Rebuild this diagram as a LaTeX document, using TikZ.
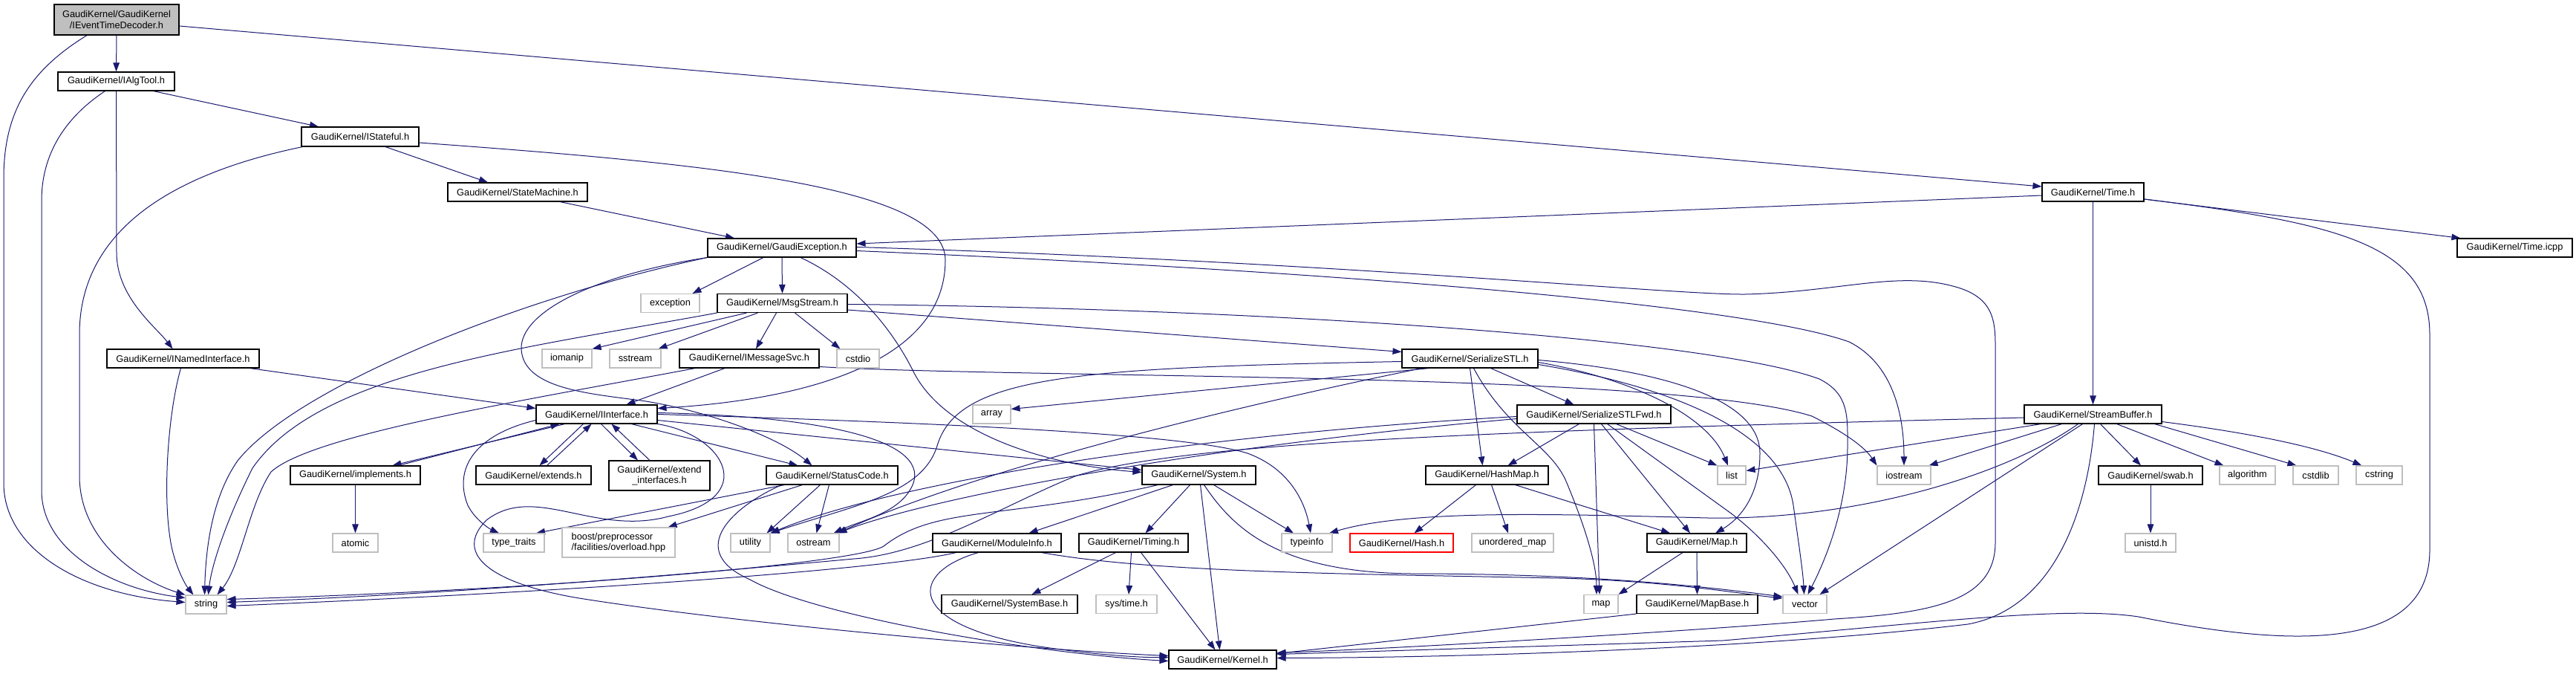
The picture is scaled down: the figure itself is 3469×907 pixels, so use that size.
\documentclass[tikz,border=0pt]{standalone}
\usepackage{fontspec}
\setmainfont{Liberation Sans}
\usetikzlibrary{arrows.meta}
\definecolor{edgeblue}{HTML}{191970}
\definecolor{sysgray}{HTML}{BFBFBF}
\pgfdeclarelayer{bg}
\pgfsetlayers{bg,main}
\begin{document}
\begin{tikzpicture}[x=1pt,y=-1pt,
  nd/.style={draw=black, line width=1.1pt, fill=white, inner sep=0pt, minimum height=25pt, align=center, font=\fontsize{12.8pt}{14.5pt}\selectfont},
  sysnd/.style={nd, draw=sysgray},
  dep/.style={draw=edgeblue, line width=1pt, -{Triangle[length=12pt,width=8.5pt]}}]
\useasboundingbox (0,0) rectangle (3469,907);
% ---------------- nodes ----------------
\node[nd, fill=sysgray, minimum width=168pt, minimum height=41pt] (ietd) at (157,26.5) {GaudiKernel/GaudiKernel\\/IEventTimeDecoder.h};
\node[nd, minimum width=157pt] (ialg) at (156.5,109.5) {GaudiKernel/IAlgTool.h};
\node[nd, minimum width=158pt, minimum height=26pt] (istat) at (485,184) {GaudiKernel/IStateful.h};
\node[nd, minimum width=188pt] (sm) at (697,258.5) {GaudiKernel/StateMachine.h};
\node[nd, minimum width=137pt] (time) at (2818.5,258.5) {GaudiKernel/Time.h};
\node[nd, minimum width=155pt] (ticpp) at (3386.5,333.5) {GaudiKernel/Time.icpp};
\node[nd, minimum width=200pt] (gexc) at (1053,333.5) {GaudiKernel/GaudiException.h};
\node[sysnd, minimum width=79pt] (exc) at (902.5,408) {exception};
\node[nd, minimum width=175pt] (msg) at (1053.5,408) {GaudiKernel/MsgStream.h};
\node[nd, minimum width=205pt] (inamed) at (246.5,482.5) {GaudiKernel/INamedInterface.h};
\node[sysnd, minimum width=67pt] (iomanip) at (763.5,482.5) {iomanip};
\node[sysnd, minimum width=69pt] (sstream) at (855.5,482.5) {sstream};
\node[nd, minimum width=188pt] (imsg) at (1009,482.5) {GaudiKernel/IMessageSvc.h};
\node[sysnd, minimum width=57pt] (cstdio) at (1155.5,482.5) {cstdio};
\node[nd, minimum width=183pt] (ser) at (1979.5,482.5) {GaudiKernel/SerializeSTL.h};
\node[nd, minimum width=163pt] (iint) at (803.5,557.5) {GaudiKernel/IInterface.h};
\node[sysnd, minimum width=51pt] (array) at (1335.5,557.5) {array};
\node[nd, minimum width=207pt] (serf) at (2146.5,557.5) {GaudiKernel/SerializeSTLFwd.h};
\node[nd, minimum width=185pt] (sbuf) at (2818.5,557.5) {GaudiKernel/StreamBuffer.h};
\node[nd, minimum width=175pt] (impl) at (478.5,639.5) {GaudiKernel/implements.h};
\node[nd, minimum width=155pt] (ext) at (718.5,639.5) {GaudiKernel/extends.h};
\node[nd, minimum width=136pt, minimum height=40pt] (extif) at (888,640) {GaudiKernel/extend\\\_interfaces.h};
\node[nd, minimum width=177pt] (sc) at (1120.5,639.5) {GaudiKernel/StatusCode.h};
\node[nd, minimum width=153pt] (sys) at (1614.5,639.5) {GaudiKernel/System.h};
\node[nd, minimum width=165pt] (hmap) at (2002.5,639.5) {GaudiKernel/HashMap.h};
\node[sysnd, minimum width=38pt] (list) at (2332,639.5) {list};
\node[sysnd, minimum width=72pt] (iostream) at (2564,639.5) {iostream};
\node[nd, minimum width=140pt] (swab) at (2896,639.5) {GaudiKernel/swab.h};
\node[sysnd, minimum width=75pt] (algo) at (3026.5,639.5) {algorithm};
\node[sysnd, minimum width=61pt] (cstdlib) at (3118.5,639.5) {cstdlib};
\node[sysnd, minimum width=62pt] (cstring) at (3204,639.5) {cstring};
\node[sysnd, minimum width=61pt] (atomic) at (478.5,730.5) {atomic};
\node[sysnd, minimum width=82pt] (ttraits) at (692,730.5) {type\_traits};
\node[sysnd, minimum width=152pt, minimum height=40pt, align=left] (boost) at (833,730) {boost/preprocessor\\/facilities/overload.hpp};
\node[sysnd, minimum width=53pt] (utility) at (1010.5,730.5) {utility};
\node[sysnd, minimum width=69pt] (ostream) at (1095.5,730.5) {ostream};
\node[nd, minimum width=173pt] (modinfo) at (1342.5,730.5) {GaudiKernel/ModuleInfo.h};
\node[nd, minimum width=147pt] (timing) at (1526.5,730.5) {GaudiKernel/Timing.h};
\node[sysnd, minimum width=68pt] (typeinfo) at (1760,730.5) {typeinfo};
\node[nd, draw=red, minimum width=139pt] (hash) at (1887.5,730.5) {GaudiKernel/Hash.h};
\node[sysnd, minimum width=110pt] (umap) at (2037,730.5) {unordered\_map};
\node[nd, minimum width=134pt] (mapH) at (2285,730.5) {GaudiKernel/Map.h};
\node[sysnd, minimum width=68pt] (unistd) at (2896,730.5) {unistd.h};
\node[sysnd, minimum width=55pt] (string) at (277.5,813.5) {string};
\node[nd, minimum width=183pt] (sysbase) at (1359.5,813) {GaudiKernel/SystemBase.h};
\node[sysnd, minimum width=82pt] (systime) at (1517,813) {sys/time.h};
\node[sysnd, minimum width=46pt] (map) at (2156,813) {map};
\node[nd, minimum width=163pt] (mapbase) at (2285.5,813) {GaudiKernel/MapBase.h};
\node[sysnd, minimum width=59pt] (vector) at (2430.5,813) {vector};
\node[nd, minimum width=145pt] (kernel) at (1646.5,887.5) {GaudiKernel/Kernel.h};
% ---------------- edges ----------------
\begin{pgfonlayer}{bg}
\fill[white] (0,0) rectangle (3469,907);
% IEventTimeDecoder
\draw[dep] (ietd.south) -- (ialg.north);
\draw[dep] ([xshift=-40pt]ietd.south) .. controls (40,95) and (5,150) .. (5,240) -- (5,650) .. controls (5,740) and (110,800) .. ([yshift=3pt]string.west);
\draw[dep] ([yshift=-8.5pt]ietd.east) -- ([yshift=7.5pt]time.west);
% IAlgTool
\draw[dep] ([xshift=-15pt]ialg.south) .. controls (85,160) and (56,210) .. (56,270) -- (56,660) .. controls (56,740) and (150,792) .. ([yshift=9pt]string.west);
\draw[dep] (ialg.south) -- (157,340) .. controls (157,400) and (210,440) .. ([xshift=-14pt]inamed.north);
\draw[dep] ([xshift=50pt]ialg.south) -- ([xshift=-56pt]istat.north);
% IStateful
\draw[dep] ([xshift=2pt]istat.south west) .. controls (250,230) and (107,300) .. (107,450) -- (107,640) .. controls (107,730) and (190,782) .. (string.north west);
\draw[dep] ([xshift=34pt]istat.south) -- ([xshift=-40pt]sm.north);
\draw[dep] ([yshift=-8pt]istat.east) .. controls (950,220) and (1273,250) .. (1273,350) .. controls (1273,500) and (1050,540) .. ([yshift=8pt]iint.east);
% StateMachine
\draw[dep] ([xshift=57pt]sm.south) -- ([xshift=-64pt]gexc.north);
% Time
\draw[dep] ([yshift=-4.5pt]time.west) -- ([yshift=5.5pt]gexc.east);
\draw[dep] ([yshift=-9.5pt]time.east) -- ([xshift=5pt]ticpp.north west);
\draw[dep] (time.south) -- (sbuf.north);
\draw[dep] ([yshift=-9.5pt]time.east) .. controls (3150,300) and (3272,330) .. (3272,450) -- (3272,740) .. controls (3272,880) and (3080,870) .. (2880,830) .. controls (2780,815) and (2600,838) .. (2320,862) -- ([yshift=7pt]kernel.east);
% GaudiException
\draw[dep] (gexc.south west) .. controls (700,400) and (400,520) .. (320,620) .. controls (285,670) and (277,740) .. ([xshift=-2pt]string.north);
\draw[dep] (gexc.south west) .. controls (800,370) and (700,420) .. (702,470) .. controls (705,525) and (800,530) .. (870,540) .. controls (960,555) and (1050,590) .. ([xshift=-27pt]sc.north);
\draw[dep] ([xshift=-25pt]gexc.south) -- ([xshift=30pt]exc.north);
\draw[dep] (gexc.south) -- (msg.north);
\draw[dep] ([xshift=25pt]gexc.south) .. controls (1150,380) and (1200,440) .. (1230,500) .. controls (1270,580) and (1400,625) .. ([yshift=4pt]sys.west);
\draw[dep] ([yshift=-4pt]gexc.east) .. controls (1800,365) and (2350,410) .. (2490,460) .. controls (2550,490) and (2564,560) .. (iostream.north);
\draw[dep] ([yshift=1pt]gexc.east) .. controls (1800,352) and (2250,397) .. (2350,396) .. controls (2480,393) and (2560,362) .. (2640,388) .. controls (2690,405) and (2687,440) .. (2687,480) -- (2687,730) .. controls (2687,810) and (2600,825) .. (2470,833) .. controls (2300,848) and (1900,872) .. ([yshift=9pt]kernel.east);
% MsgStream
\draw[dep] (msg.south west) .. controls (700,470) and (430,500) .. (340,630) .. controls (305,700) and (285,760) .. ([xshift=3pt]string.north);
\draw[dep] ([xshift=-48pt]msg.south) -- (iomanip.north east);
\draw[dep] ([xshift=-33pt]msg.south) -- ([xshift=-4pt]sstream.north east);
\draw[dep] ([xshift=-8pt]msg.south) -- ([xshift=9pt]imsg.north);
\draw[dep] ([xshift=17pt]msg.south) -- ([xshift=5pt]cstdio.north west);
\draw[dep] ([yshift=-9pt]msg.east) -- ([yshift=9pt]ser.west);
\draw[dep] ([yshift=-1.5pt]msg.east) .. controls (1700,415) and (2300,455) .. (2450,510) .. controls (2490,530) and (2488,560) .. (2488,600) .. controls (2488,680) and (2460,750) .. ([xshift=4pt]vector.north);
% IMessageSvc
\draw[dep] ([xshift=-33pt]imsg.south) -- ([xshift=40pt]iint.north);
\draw[dep] ([xshift=-73pt]imsg.south) .. controls (700,540) and (420,585) .. (365,635) .. controls (335,680) and (325,760) .. ([xshift=15pt]string.north);
\draw[dep] ([yshift=-11pt]imsg.east) .. controls (1400,510) and (2250,500) .. (2440,560) .. controls (2480,580) and (2510,600) .. (iostream.north west);
% SerializeSTL
\draw[dep] ([xshift=-55pt]ser.south) -- ([yshift=7pt]array.east);
\draw[dep] ([yshift=-4pt]ser.west) .. controls (1450,495) and (1290,505) .. (1262,600) .. controls (1242,665) and (1150,680) .. (utility.north east);
\draw[dep] ([xshift=-65pt]ser.south) .. controls (1600,560) and (1300,640) .. ([xshift=-3pt]ostream.north east);
\draw[dep] (ser.south) -- ([xshift=-6pt]hmap.north);
\draw[dep] ([xshift=5pt]ser.south) .. controls (2030,580) and (2090,600) .. (2110,650) .. controls (2135,710) and (2150,760) .. ([xshift=-6pt]map.north);
\draw[dep] ([xshift=28pt]ser.south) -- ([xshift=-27pt]serf.north);
\draw[dep] ([yshift=-5pt]ser.east) .. controls (2200,510) and (2300,560) .. ([xshift=-5pt]list.north);
\draw[dep] ([yshift=-2pt]ser.east) .. controls (2250,500) and (2370,540) .. (2370,610) .. controls (2370,670) and (2340,700) .. ([xshift=25pt]mapH.north);
\draw[dep] ([yshift=-8pt]ser.east) .. controls (2250,520) and (2400,580) .. (2415,680) .. controls (2422,730) and (2428,770) .. ([xshift=-1pt]vector.north);
% SerializeSTLFwd
\draw[dep] ([yshift=-3pt]serf.west) .. controls (1600,585) and (1200,650) .. (utility.north east);
\draw[dep] ([yshift=-6pt]serf.west) .. controls (1620,600) and (1250,670) .. ([xshift=-2pt]ostream.north east);
\draw[dep] ([xshift=-20pt]serf.south) -- ([xshift=28pt]hmap.north);
\draw[dep] (serf.south) -- ([xshift=-2pt]map.north);
\draw[dep] ([xshift=10pt]serf.south) -- ([xshift=-9pt]mapH.north);
\draw[dep] ([xshift=18pt]serf.south) -- (2330,690) .. controls (2370,720) and (2405,760) .. ([xshift=-9pt]vector.north);
\draw[dep] ([xshift=30pt]serf.south) -- (list.north west);
% HashMap, Map, MapBase
\draw[dep] ([xshift=-15pt]hmap.south) -- ([xshift=17pt]hash.north);
\draw[dep] ([xshift=6pt]hmap.south) -- ([xshift=-6pt]umap.north);
\draw[dep] ([xshift=38pt]hmap.south) -- ([xshift=-36pt]mapH.north);
\draw[dep] ([xshift=-19pt]mapH.south) -- (map.north east);
\draw[dep] (mapH.south) -- (mapbase.north);
\draw[dep] (mapbase.south west) -- ([yshift=8pt]kernel.east);
% StreamBuffer
\draw[dep] ([yshift=-4.5pt]sbuf.west) .. controls (2000,580) and (1600,595) .. (1450,640) .. controls (1350,680) and (1250,745) .. (1150,752) .. controls (900,775) and (600,800) .. ([yshift=3pt]string.east);
\draw[dep] ([xshift=-70pt]sbuf.south) -- ([yshift=6pt]list.east);
\draw[dep] ([xshift=-42pt]sbuf.south) -- ([xshift=-3pt]iostream.north east);
\draw[dep] ([xshift=-20pt]sbuf.south) .. controls (2700,640) and (2500,700) .. (2300,697) .. controls (2100,692) and (1900,685) .. ([xshift=30pt]typeinfo.north);
\draw[dep] ([xshift=-14pt]sbuf.south) -- ([xshift=20pt]vector.north);
\draw[dep] ([xshift=2pt]sbuf.south) .. controls (2810,700) and (2760,820) .. (2650,840) .. controls (2400,870) and (2000,885) .. ([yshift=2pt]kernel.east);
\draw[dep] ([xshift=10pt]sbuf.south) -- ([xshift=-13pt]swab.north);
\draw[dep] ([xshift=32pt]sbuf.south) -- ([xshift=6pt]algo.north west);
\draw[dep] ([xshift=-10pt]sbuf.south east) -- ([xshift=5pt]cstdlib.north west);
\draw[dep] ([yshift=-10pt]sbuf.east) .. controls (3050,585) and (3130,605) .. ([xshift=8pt]cstring.north west);
\draw[dep] (swab.south) -- (unistd.north);
% System
\draw[dep] ([xshift=-55pt]sys.south) .. controls (1350,700) and (1260,680) .. (1190,735) .. controls (1150,760) and (700,795) .. ([yshift=7pt]string.east);
\draw[dep] ([xshift=-35pt]sys.south) -- ([xshift=43pt]modinfo.north);
\draw[dep] ([xshift=-12pt]sys.south) -- ([xshift=16pt]timing.north);
\draw[dep] ([xshift=2pt]sys.south) -- ([xshift=-4pt]kernel.north);
\draw[dep] ([xshift=7pt]sys.south) .. controls (1660,710) and (1720,770) .. (1900,772) .. controls (2150,772) and (2300,790) .. ([yshift=10pt]vector.west);
\draw[dep] ([xshift=20pt]sys.south) -- ([xshift=-18pt]typeinfo.north);
% ModuleInfo
\draw[dep] ([xshift=-25pt]modinfo.south) .. controls (1225,770) and (1215,840) .. (1400,870) .. controls (1480,882) and (1540,885) .. ([yshift=3pt]kernel.west);
\draw[dep] ([xshift=-55pt]modinfo.south) .. controls (1200,765) and (800,795) .. ([yshift=-2pt]string.east);
\draw[dep] ([xshift=60pt]modinfo.south) .. controls (1550,770) and (1800,772) .. (2100,778) .. controls (2250,782) and (2350,800) .. ([yshift=8pt]vector.west);
% Timing
\draw[dep] ([xshift=-24pt]timing.south) -- ([xshift=30pt]sysbase.north);
\draw[dep] ([xshift=-3pt]timing.south) -- ([xshift=3pt]systime.north);
\draw[dep] ([xshift=10pt]timing.south) -- ([xshift=-10pt]kernel.north);
% StatusCode
\draw[dep] ([xshift=-64pt]sc.south) -- ([xshift=30pt]ttraits.north);
\draw[dep] ([xshift=-40pt]sc.south) -- ([xshift=-10pt]boost.north east);
\draw[dep] ([xshift=-68pt]sc.south) .. controls (990,680) and (920,740) .. (1010,780) .. controls (1100,830) and (1400,880) .. ([yshift=-2pt]kernel.west);
\draw[dep] ([xshift=-16pt]sc.south) -- ([xshift=-5pt]utility.north east);
\draw[dep] ([xshift=-4pt]sc.south) -- ([xshift=4pt]ostream.north);
% IInterface
\draw[dep] ([yshift=-8pt]iint.west) .. controls (640,585) and (610,630) .. (630,680) .. controls (640,700) and (660,712) .. ([xshift=-20pt]ttraits.north);
\draw[dep] ([xshift=-43pt]iint.south) -- ([xshift=50pt]impl.north);
\draw[dep] ([xshift=58pt]impl.north) -- ([xshift=-50pt]iint.south);
\draw[dep] ([xshift=-18pt]iint.south) -- ([xshift=8pt]ext.north);
\draw[dep] ([xshift=18pt]ext.north) -- ([xshift=-7pt]iint.south);
\draw[dep] ([xshift=6pt]iint.south) -- ([xshift=-29pt]extif.north);
\draw[dep] ([xshift=-13pt]extif.north) -- ([xshift=20pt]iint.south);
\draw[dep] ([xshift=47pt]iint.south) -- ([xshift=-46pt]sc.north);
\draw[dep] ([yshift=-8pt]iint.east) -- ([yshift=7pt]sys.west);
\draw[dep] (iint.east) .. controls (1300,570) and (1600,585) .. (1680,610) .. controls (1740,632) and (1758,680) .. ([xshift=5pt]typeinfo.north);
\draw[dep] (iint.south east) .. controls (975,585) and (1025,670) .. (900,695) .. controls (800,722) and (720,650) .. (655,700) .. controls (610,745) and (660,785) .. (780,805) .. controls (1000,840) and (1400,875) .. ([yshift=5pt]kernel.west);
\draw[dep] ([yshift=2pt]iint.east) .. controls (1100,560) and (1250,590) .. (1230,650) .. controls (1215,690) and (1160,700) .. ([xshift=-8pt]ostream.north east);
% INamedInterface
\draw[dep] ([xshift=90pt]inamed.south) -- ([yshift=8pt]iint.west);
\draw[dep] ([xshift=-3pt]inamed.south) .. controls (225,560) and (218,680) .. (232,740) .. controls (240,772) and (252,790) .. ([xshift=-17pt]string.north);
% implements
\draw[dep] (impl.south) -- (atomic.north);
\end{pgfonlayer}
\end{tikzpicture}
\end{document}
